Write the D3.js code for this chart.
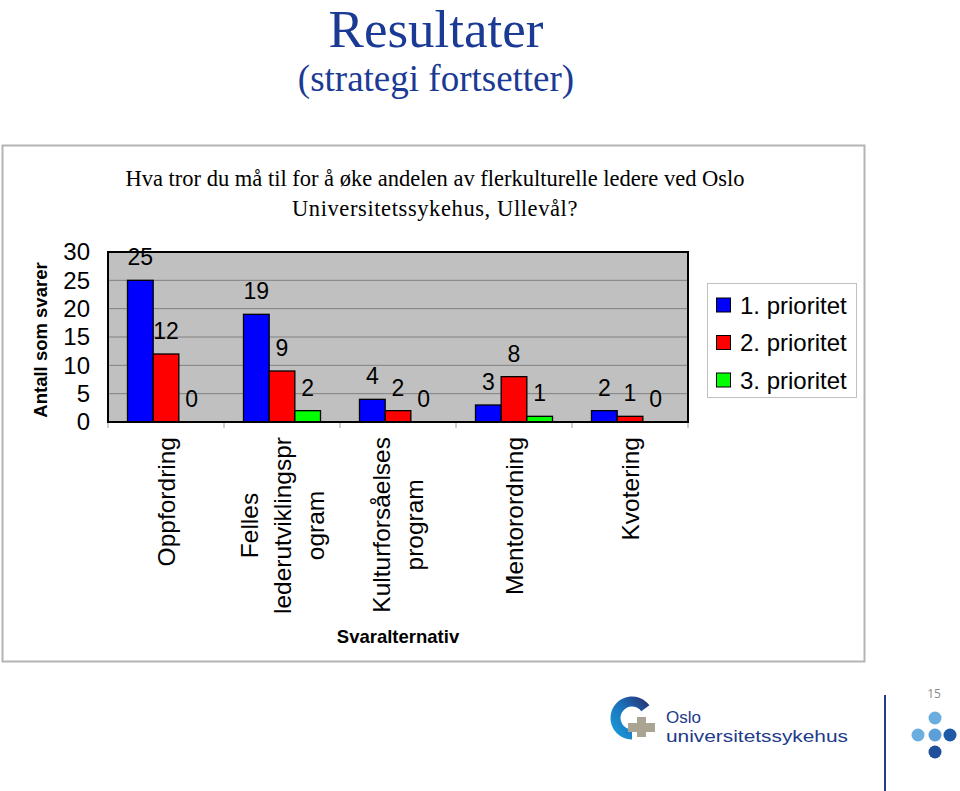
<!DOCTYPE html>
<html><head><meta charset="utf-8">
<script src="https://cdn.jsdelivr.net/npm/d3@7"></script>
<style>body{margin:0;background:#fff;overflow:hidden} svg{display:block}</style>
</head><body>
<script>
// ---- data ----
const categories = ["Oppfordring", "Felles lederutviklingsprogram", "Kulturforsåelses program", "Mentorordning", "Kvotering"];
const categoryLines = [["Oppfordring"], ["Felles", "lederutviklingspr", "ogram"], ["Kulturforsåelses", "program"], ["Mentorordning"], ["Kvotering"]];
const seriesNames = ["1. prioritet", "2. prioritet", "3. prioritet"];
const prioritet1 = [25, 19, 4, 3, 2];
const prioritet2 = [12, 9, 2, 8, 1];
const prioritet3 = [0, 2, 0, 1, 0];
const yTicks = [0, 5, 10, 15, 20, 25, 30];
const seriesColors = ["#0000ff", "#ff0000", "#00ff00"];
const titleText = "Resultater";
const subtitleText = "(strategi fortsetter)";
const questionLines = ["Hva tror du må til for å øke andelen av flerkulturelle ledere ved Oslo", "Universitetssykehus, Ullevål?"];
const yTitle = "Antall som svarer";
const xTitle = "Svaralternativ";

const series = [prioritet1, prioritet2, prioritet3];

const W = 960, H = 791;
const svg = d3.select("body").append("svg").attr("width", W).attr("height", H);
const sans = "'Liberation Sans', Arial, sans-serif";
const serif = "'Liberation Serif', 'Times New Roman', serif";

// titles
svg.append("text").attr("x", 436).attr("y", 47).attr("text-anchor", "middle")
  .attr("font-family", serif).attr("font-size", 53).attr("fill", "#1a3a94").text(titleText);
svg.append("text").attr("x", 436).attr("y", 91).attr("text-anchor", "middle")
  .attr("font-family", serif).attr("font-size", 37).attr("fill", "#1a3a94").text(subtitleText);

// chart frame
svg.append("rect").attr("x", 2.5).attr("y", 145.5).attr("width", 862).attr("height", 516)
  .attr("fill", "#fff").attr("stroke", "#b4b4b4").attr("stroke-width", 2);

// question
svg.selectAll("text.q").data(questionLines).join("text").attr("class", "q")
  .attr("x", 435).attr("y", (d, i) => 186 + i * 30).attr("text-anchor", "middle")
  .attr("font-family", serif).attr("font-size", 22.5).attr("letter-spacing", (d, i) => i ? 0.6 : 0)
  .attr("fill", "#000").text(d => d);

// scales
const x = d3.scaleBand().domain(categories).range([108, 688]).paddingInner(0.336).paddingOuter(0.168);
const xs = d3.scaleBand().domain(d3.range(series.length)).range([0, x.bandwidth()]);
const y = d3.scaleLinear().domain([0, 30]).range([422, 252]);

// plot bg
svg.append("rect").attr("x", 108).attr("y", y(30)).attr("width", 580).attr("height", y(0) - y(30)).attr("fill", "#c0c0c0");

// grid
svg.append("g").selectAll("line").data(yTicks.filter(t => t > 0 && t < 30)).join("line")
  .attr("x1", 108).attr("x2", 688).attr("y1", d => y(d)).attr("y2", d => y(d))
  .attr("stroke", "#808080").attr("stroke-width", 1);

// bars
const groups = svg.append("g").selectAll("g").data(categories).join("g")
  .attr("transform", d => `translate(${x(d)},0)`);
groups.each(function(cat, ci) {
  const g = d3.select(this);
  series.forEach((s, si) => {
    const v = s[ci];
    if (v > 0) {
      g.append("rect").attr("x", xs(si)).attr("y", y(v)).attr("width", xs.bandwidth()).attr("height", y(0) - y(v))
        .attr("fill", seriesColors[si]).attr("stroke", "#000").attr("stroke-width", 1.3);
    }
    g.append("text").attr("x", xs(si) + xs.bandwidth() / 2).attr("y", y(v) - 15)
      .attr("text-anchor", "middle").attr("font-family", sans).attr("font-size", 23).attr("fill", "#000").text(v);
  });
});

// plot border
svg.append("rect").attr("x", 108).attr("y", y(30)).attr("width", 580).attr("height", y(0) - y(30))
  .attr("fill", "none").attr("stroke", "#000").attr("stroke-width", 2);

// y axis labels
const yAxis = d3.axisLeft(y).tickValues(yTicks).tickSize(0).tickPadding(18);
const ya = svg.append("g").attr("transform", "translate(108,0)").call(yAxis);
ya.select(".domain").remove();
ya.selectAll("text").attr("font-family", sans).attr("font-size", 24).attr("fill", "#000");

// category boundary ticks
const bounds = d3.range(categories.length + 1).map(i => 108 + i * x.step());
svg.append("g").selectAll("line").data(bounds).join("line")
  .attr("x1", d => d).attr("x2", d => d).attr("y1", y(0) + 1).attr("y2", y(0) + 6)
  .attr("stroke", "#a0a0a0").attr("stroke-width", 1);

// x labels (rotated, multi-line, centered)
categories.forEach((cat, ci) => {
  const lines = categoryLines[ci];
  const cx = x(cat) + x.bandwidth() / 2;
  const g = svg.append("g");
  const texts = lines.map((ln, li) => g.append("text").attr("font-family", sans).attr("font-size", 24.5)
    .attr("fill", "#000").attr("text-anchor", "middle").attr("dominant-baseline", "central").text(ln));
  const maxLen = d3.max(texts, t => t.node().getComputedTextLength());
  const cy = 437 + maxLen / 2;
  texts.forEach((t, li) => {
    const lx = cx + (li - (lines.length - 1) / 2) * 33;
    t.attr("transform", `translate(${lx},${cy}) rotate(-90)`);
  });
});

// axis titles
svg.append("text").attr("transform", "translate(40,340) rotate(-90)").attr("text-anchor", "middle")
  .attr("dominant-baseline", "central").attr("font-family", sans).attr("font-weight", "bold")
  .attr("font-size", 18.5).text(yTitle);
svg.append("text").attr("x", 398).attr("y", 643).attr("text-anchor", "middle")
  .attr("font-family", sans).attr("font-weight", "bold").attr("font-size", 18.5).text(xTitle);

// legend
const lg = svg.append("g");
lg.append("rect").attr("x", 707.5).attr("y", 283.5).attr("width", 149).attr("height", 114)
  .attr("fill", "#fff").attr("stroke", "#c0c0c0").attr("stroke-width", 1);
seriesNames.forEach((n, i) => {
  const cy = 305 + i * 37.5;
  lg.append("rect").attr("x", 716.5).attr("y", cy - 7).attr("width", 14).attr("height", 14)
    .attr("fill", seriesColors[i]).attr("stroke", "#000").attr("stroke-width", 1);
  lg.append("text").attr("x", 740).attr("y", cy).attr("dominant-baseline", "central")
    .attr("font-family", sans).attr("font-size", 24).attr("fill", "#000").text(n);
});

// footer logo
const defs = svg.append("defs");
const grad = defs.append("linearGradient").attr("id", "lg1").attr("x1", "0").attr("y1", "1").attr("x2", "1").attr("y2", "0");
grad.append("stop").attr("offset", "0").attr("stop-color", "#1aa3e0");
grad.append("stop").attr("offset", "0.55").attr("stop-color", "#1a6fb8");
grad.append("stop").attr("offset", "1").attr("stop-color", "#2b2a6b");
const arc = d3.arc().innerRadius(11.5).outerRadius(21.5).startAngle(Math.PI * 1.0).endAngle(Math.PI * 2.3);
svg.append("path").attr("d", arc()).attr("transform", "translate(632,718)").attr("fill", "url(#lg1)");
svg.append("rect").attr("x", 628).attr("y", 723).attr("width", 27).attr("height", 9).attr("fill", "#aaa593");
svg.append("rect").attr("x", 637).attr("y", 717).attr("width", 9).attr("height", 20).attr("fill", "#aaa593");
svg.append("text").attr("x", 666).attr("y", 722.5).attr("font-family", sans).attr("font-size", 17)
  .attr("fill", "#1e3a8a").text("Oslo");
svg.append("text").attr("x", 666).attr("y", 742).attr("font-family", sans).attr("font-size", 17)
  .attr("fill", "#1e3a8a").attr("textLength", 182).attr("lengthAdjust", "spacingAndGlyphs").text("universitetssykehus");
svg.append("line").attr("x1", 885).attr("x2", 885).attr("y1", 695).attr("y2", 791).attr("stroke", "#1f3d8c").attr("stroke-width", 2);
svg.append("text").attr("x", 934).attr("y", 698).attr("text-anchor", "middle").attr("font-family", "'Open Sans', sans-serif")
  .attr("font-size", 12).attr("fill", "#888").text("15");
const dots = [[935, 718, "#6aaee0"], [918, 735, "#6aaee0"], [935, 735, "#5c9fd8"], [950, 735, "#1f5aa6"], [935, 752, "#1f4f98"]];
svg.selectAll("circle.d").data(dots).join("circle").attr("class", "d")
  .attr("cx", d => d[0]).attr("cy", d => d[1]).attr("r", 6.5).attr("fill", d => d[2]);
</script>
</body></html>
